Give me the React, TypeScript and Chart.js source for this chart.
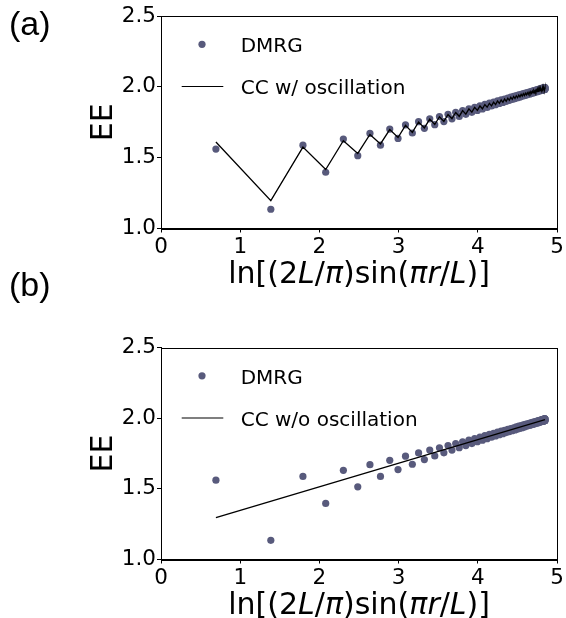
import React, { useEffect, useRef } from "react";
import { Chart, registerables } from "chart.js";

Chart.register(...registerables);

// x = ln[(2L/pi) sin(pi r / L)] for r = 1..100
const xVals = [
  0.6931, 1.3861, 1.7914, 2.0788, 2.3016, 2.4834, 2.6371, 2.77, 2.8871, 2.9916,
  3.086, 3.1722, 3.2511, 3.3241, 3.3919, 3.4552, 3.5145, 3.5701, 3.6227, 3.6724,
  3.7195, 3.7642, 3.8067, 3.8474, 3.8862, 3.9232, 3.9588, 3.993, 4.0256, 4.057,
  4.0873, 4.1164, 4.1445, 4.1715, 4.1976, 4.2228, 4.2472, 4.2706, 4.2934, 4.3153,
  4.3365, 4.3571, 4.377, 4.3963, 4.415, 4.4332, 4.4507, 4.4677, 4.4841, 4.5001,
  4.5156, 4.5306, 4.5451, 4.5591, 4.5728, 4.586, 4.5987, 4.6112, 4.6232, 4.6348,
  4.646, 4.6569, 4.6674, 4.6775, 4.6872, 4.6967, 4.7058, 4.7147, 4.7232, 4.7313,
  4.7391, 4.7466, 4.7539, 4.7609, 4.7675, 4.7739, 4.7799, 4.7858, 4.7913, 4.7966,
  4.8015, 4.8062, 4.8107, 4.8148, 4.8187, 4.8223, 4.8257, 4.8288, 4.8317, 4.8343,
  4.8366, 4.8388, 4.8407, 4.8423, 4.8436, 4.8447, 4.8456, 4.8462, 4.8466, 4.8467,
];

const dmrgVals = [
  1.561, 1.136, 1.588, 1.397, 1.631, 1.514, 1.671, 1.588, 1.702, 1.636,
  1.731, 1.674, 1.754, 1.707, 1.774, 1.733, 1.79, 1.755, 1.806, 1.774,
  1.82, 1.791, 1.833, 1.806, 1.845, 1.82, 1.856, 1.833, 1.866, 1.844,
  1.876, 1.855, 1.885, 1.865, 1.893, 1.874, 1.901, 1.883, 1.908, 1.89,
  1.914, 1.898, 1.921, 1.905, 1.927, 1.911, 1.932, 1.917, 1.938, 1.923,
  1.943, 1.928, 1.947, 1.933, 1.952, 1.938, 1.956, 1.942, 1.96, 1.947,
  1.963, 1.95, 1.967, 1.954, 1.97, 1.957, 1.973, 1.96, 1.976, 1.963,
  1.978, 1.966, 1.981, 1.968, 1.983, 1.971, 1.985, 1.973, 1.986, 1.975,
  1.988, 1.976, 1.99, 1.978, 1.991, 1.979, 1.992, 1.98, 1.993, 1.981,
  1.994, 1.982, 1.994, 1.983, 1.995, 1.983, 1.995, 1.983, 1.995, 1.983,
];

const ccOscVals = [
  1.611, 1.197, 1.575, 1.416, 1.62, 1.53, 1.664, 1.597, 1.698, 1.642,
  1.728, 1.678, 1.752, 1.71, 1.772, 1.734, 1.789, 1.756, 1.805, 1.775,
  1.819, 1.792, 1.832, 1.807, 1.844, 1.821, 1.855, 1.834, 1.865, 1.845,
  1.875, 1.856, 1.884, 1.866, 1.892, 1.875, 1.9, 1.883, 1.907, 1.891,
  1.914, 1.898, 1.92, 1.905, 1.926, 1.912, 1.932, 1.918, 1.937, 1.923,
  1.942, 1.929, 1.947, 1.934, 1.951, 1.938, 1.955, 1.943, 1.959, 1.947,
  1.963, 1.951, 1.966, 1.954, 1.969, 1.958, 1.972, 1.961, 1.975, 1.964,
  1.978, 1.966, 1.98, 1.969, 1.982, 1.971, 1.984, 1.973, 1.986, 1.975,
  1.988, 1.977, 1.989, 1.978, 1.99, 1.979, 1.992, 1.98, 1.993, 1.981,
  1.993, 1.982, 1.994, 1.983, 1.994, 1.983, 1.995, 1.984, 1.995, 1.984,
];

const ccUniformX = [0.6931, 4.8467];
const ccUniformY = [1.297, 1.989];

const xTicks = [0, 1, 2, 3, 4, 5];
const yTicks = [1.0, 1.5, 2.0, 2.5];

const panelLabels = ["(a)", "(b)"];
const dmrgLabel = "DMRG";
const lineLabels = ["CC w/ oscillation", "CC w/o oscillation"];
const yTitle = "EE";
// x-axis title as [text, italic] pieces (mathtext style)
const xTitleParts: [string, boolean][] = [
  ["ln[(2", false],
  ["L", true],
  ["/", false],
  ["\u03C0", true],
  [")sin(", false],
  ["\u03C0", true],
  ["r", true],
  ["/", false],
  ["L", true],
  [")]", false],
];

const W = 566;
const H = 618;
const DOT = "rgb(88,90,124)";
const FONT = "'DejaVu Sans', sans-serif";

function makeChart(
  canvas: HTMLCanvasElement,
  idx: number,
  lineX: number[],
  lineY: number[],
  padTop: number,
  padBottom: number,
  xAxisHeight: number,
  labelBaseline: number
) {
  const decor = {
    id: "decor" + idx,
    afterDraw(chart: any) {
      const ctx = chart.ctx;
      const a = chart.chartArea;
      ctx.save();
      // frame (top & right spines)
      ctx.strokeStyle = "#000";
      ctx.lineWidth = 1;
      ctx.strokeRect(Math.round(a.left) + 0.5, Math.round(a.top) + 0.5, Math.round(a.right - a.left), Math.round(a.bottom - a.top));

      // legend
      ctx.fillStyle = DOT;
      ctx.beginPath();
      ctx.arc(a.left + 41, a.top + 28.3, 3.6, 0, Math.PI * 2);
      ctx.fill();
      ctx.strokeStyle = "#000";
      ctx.lineWidth = 1.2;
      ctx.beginPath();
      ctx.moveTo(a.left + 20.7, a.top + 70.5);
      ctx.lineTo(a.left + 62.3, a.top + 70.5);
      ctx.stroke();
      ctx.fillStyle = "#000";
      ctx.font = "20px " + FONT;
      ctx.textAlign = "left";
      ctx.textBaseline = "alphabetic";
      ctx.fillText(dmrgLabel, a.left + 79.7, a.top + 36);
      ctx.fillText(lineLabels[idx], a.left + 79.7, a.top + 78);

      // x title
      const fs = 30;
      const reg = fs + "px " + FONT;
      const ital = "oblique " + fs + "px " + FONT;
      let total = 0;
      for (const [t, it] of xTitleParts) {
        ctx.font = it ? ital : reg;
        total += ctx.measureText(t).width;
      }
      let x = (a.left + a.right) / 2 - total / 2;
      const by = a.bottom + 54.8;
      for (const [t, it] of xTitleParts) {
        ctx.font = it ? ital : reg;
        ctx.fillText(t, x, by);
        x += ctx.measureText(t).width;
      }

      // y title
      ctx.save();
      ctx.translate(a.left - 49.5, (a.top + a.bottom) / 2);
      ctx.rotate(-Math.PI / 2);
      ctx.font = "30px " + FONT;
      ctx.textAlign = "center";
      ctx.textBaseline = "alphabetic";
      ctx.fillText(yTitle, 0, 0);
      ctx.restore();

      // panel label
      ctx.font = "34px 'Liberation Sans', Arial, sans-serif";
      ctx.textAlign = "left";
      ctx.fillText(panelLabels[idx], 9, labelBaseline);
      ctx.restore();
    },
  };

  return new Chart(canvas, {
    type: "scatter",
    data: {
      datasets: [
        {
          label: lineLabels[idx],
          data: lineX.map((x, i) => ({ x, y: lineY[i] })),
          showLine: true,
          borderColor: "#000",
          borderWidth: 1.3,
          pointRadius: 0,
          tension: 0,
          order: 1,
        },
        {
          label: dmrgLabel,
          data: xVals.map((x, i) => ({ x, y: dmrgVals[i] })),
          showLine: false,
          backgroundColor: DOT,
          borderWidth: 0,
          pointRadius: 3.6,
          order: 2,
        },
      ],
    },
    options: {
      responsive: false,
      animation: false,
      devicePixelRatio: 1,
      layout: { padding: { top: padTop, bottom: padBottom, left: 0, right: 8 } },
      plugins: { legend: { display: false }, tooltip: { enabled: false } },
      scales: {
        x: {
          type: "linear",
          min: 0,
          max: 5,
          afterBuildTicks: (s: any) => {
            s.ticks = xTicks.map((v) => ({ value: v }));
          },
          afterFit: (s: any) => {
            s.height = xAxisHeight;
          },
          grid: { display: true, drawOnChartArea: false, drawTicks: true, tickLength: 4, tickColor: "#000", tickWidth: 1 },
          border: { display: true, color: "#000", width: 1 },
          ticks: { color: "#000", font: { family: FONT, size: 21.5 }, padding: 2, maxRotation: 0, autoSkip: false, callback: (v: any) => String(v) },
        },
        y: {
          type: "linear",
          min: 1,
          max: 2.5,
          afterBuildTicks: (s: any) => {
            s.ticks = yTicks.map((v) => ({ value: v }));
          },
          afterFit: (s: any) => {
            s.width = 161;
          },
          grid: { display: true, drawOnChartArea: false, drawTicks: true, tickLength: 4, tickColor: "#000", tickWidth: 1 },
          border: { display: true, color: "#000", width: 1 },
          ticks: { color: "#000", font: { family: FONT, size: 21.5 }, padding: 1, autoSkip: false, callback: (v: any) => Number(v).toFixed(1) },
        },
      },
    },
    plugins: [decor],
  } as any);
}

export default function App() {
  const refA = useRef<HTMLCanvasElement | null>(null);
  const refB = useRef<HTMLCanvasElement | null>(null);

  useEffect(() => {
    const charts: Chart[] = [];
    if (refA.current) {
      charts.push(makeChart(refA.current, 0, xVals, ccOscVals, 16, H - 228.5 - 60, 60, 35));
    }
    if (refB.current) {
      charts.push(makeChart(refB.current, 1, ccUniformX, ccUniformY, 347.5, 0, H - 559.5, 296));
    }
    return () => charts.forEach((c) => c.destroy());
  }, []);

  const cs: React.CSSProperties = { position: "absolute", left: 0, top: 0, width: W, height: H };
  return (
    <div style={{ position: "absolute", left: 0, top: 0, width: W, height: H, background: "#fff" }}>
      <canvas ref={refA} width={W} height={H} style={cs} />
      <canvas ref={refB} width={W} height={H} style={cs} />
    </div>
  );
}
